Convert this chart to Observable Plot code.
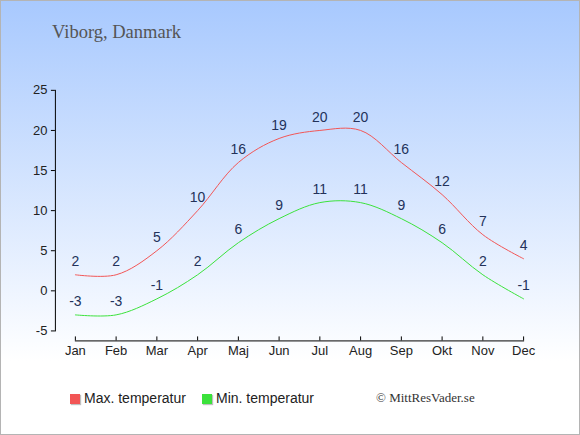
<!DOCTYPE html>
<html>
<head>
<meta charset="utf-8">
<script src="https://cdn.jsdelivr.net/npm/d3@7"></script>
<script src="https://cdn.jsdelivr.net/npm/@observablehq/plot@0.6"></script>
<style>
html, body { margin: 0; padding: 0; background: #fff; }
#wrap {
  position: relative; width: 580px; height: 435px; box-sizing: border-box;
  border: 1px solid #b4b4b4; overflow: hidden;
  background: linear-gradient(to bottom, #a8c9fe 0px, #ffffff 360px, #ffffff 100%);
}
#chart { position: absolute; left: -1px; top: -1px; }
#title {
  position: absolute; left: 51px; top: 21.5px; line-height: 1;
  font-family: "Liberation Serif", serif; font-size: 18.5px; color: #555; white-space: nowrap;
}
.leg { position: absolute; top: 390px; line-height: 1; font-family: "Liberation Sans", Arial, sans-serif;
  font-size: 14px; color: #222; white-space: nowrap; }
.sw { position: absolute; top: 393px; width: 10px; height: 10px; box-shadow: 1px 1px 1px rgba(0,0,0,0.25); }
#copy { position: absolute; left: 375px; top: 390px; line-height: 1; font-family: "Liberation Serif", serif;
  font-size: 13px; color: #333; white-space: nowrap; }
</style>
</head>
<body>
<div id="wrap">
  <div id="chart"></div>
  <div id="title">Viborg, Danmark</div>
  <div class="sw" id="sw1"></div><div class="leg" id="leg1"></div>
  <div class="sw" id="sw2"></div><div class="leg" id="leg2"></div>
  <div id="copy">© MittResVader.se</div>
</div>
<script>
const months = ["Jan","Feb","Mar","Apr","Maj","Jun","Jul","Aug","Sep","Okt","Nov","Dec"];
const maxTemp = [2, 2, 5, 10, 16, 19, 20, 20, 16, 12, 7, 4];
const minTemp = [-3, -3, -1, 2, 6, 9, 11, 11, 9, 6, 2, -1];
const yTicks = [-5, 0, 5, 10, 15, 20, 25];
const seriesNames = ["Max. temperatur", "Min. temperatur"];
const seriesColors = ["#f25555", "#3be23b"];
const labelColor = "#23325a";

const maxData = months.map((m, i) => ({month: m, value: maxTemp[i]}));
const minData = months.map((m, i) => ({month: m, value: minTemp[i]}));

const chart = Plot.plot({
  width: 580, height: 370,
  marginTop: 90, marginBottom: 29, marginLeft: 55, marginRight: 57,
  style: {background: "transparent", fontFamily: "'Liberation Sans', Arial, sans-serif", fontSize: "13px", color: "#222"},
  x: {type: "point", domain: months, range: [75, 524], padding: 0, round: false, label: null},
  y: {domain: [-5, 25], range: [331, 90], label: null},
  marks: [
    Plot.frame({anchor: "bottom", insetLeft: 20, insetRight: -1, stroke: "#000"}),
    Plot.frame({anchor: "left", insetBottom: 10, stroke: "#000"}),
    Plot.axisY({ticks: yTicks, tickFormat: d => String(d), tickSize: 4, tickPadding: 4, fontSize: 13, stroke: "#000", label: null}),
    Plot.axisX({tickSize: 0, tickPadding: 5, fontSize: 13, label: null}),
    Plot.tickX(months, {x: d => d, insetTop: 247, stroke: "#000"}),
    Plot.line(maxData, {x: "month", y: "value", stroke: seriesColors[0], strokeWidth: 1, curve: "catmull-rom"}),
    Plot.line(minData, {x: "month", y: "value", stroke: seriesColors[1], strokeWidth: 1, curve: "catmull-rom"}),
    Plot.text(maxData, {x: "month", y: "value", text: d => String(d.value), dy: -13, fill: labelColor, fontSize: 14}),
    Plot.text(minData, {x: "month", y: "value", text: d => String(d.value), dy: -13, fill: labelColor, fontSize: 14})
  ]
});
document.getElementById("chart").appendChild(chart);

const legLefts = [[69, 83], [201, 215]];
["1","2"].forEach((k, i) => {
  const sw = document.getElementById("sw" + k);
  sw.style.left = legLefts[i][0] + "px";
  sw.style.background = seriesColors[i];
  const lg = document.getElementById("leg" + k);
  lg.style.left = legLefts[i][1] + "px";
  lg.textContent = seriesNames[i];
});
</script>
</body>
</html>
